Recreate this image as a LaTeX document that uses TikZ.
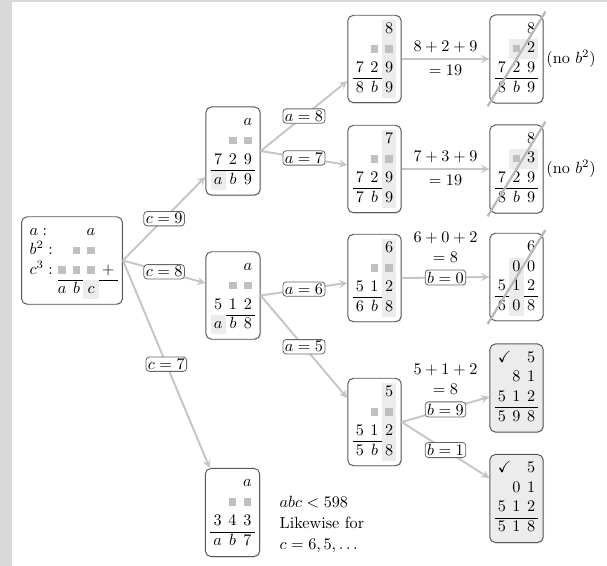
\documentclass[tikz,border=0pt]{standalone}
\usepackage{amssymb,amsmath}
\usepackage{colortbl}
\usetikzlibrary{arrows}
\usetikzlibrary{positioning}
\usetikzlibrary{shadows}

\setlength{\arraycolsep}{2pt}
\newcommand{\sq}{\textcolor{gray!50}{\rule[0.3pt]{4.6pt}{4.6pt}}}
\newcommand{\hlc}{\cellcolor{gray!15}}
\newcommand{\chk}{\rlap{$\checkmark$}\phantom{0}}
\newcolumntype{H}{>{\columncolor{gray!15}}c}

\begin{document}
\begin{tikzpicture}[x=0.6173pt,y=-0.6173pt]
	\tikzset{
		box/.style={draw=black!65,line width=0.6pt,rounded corners=3.5pt,fill=white,inner sep=3pt,
			drop shadow={opacity=0.18,shadow xshift=0.5pt,shadow yshift=-0.7pt}},
		done/.style={box,fill=gray!15},
		lbl/.style={draw=gray!80!black,fill=white,text=black,rounded corners=2pt,inner sep=1.2pt,line width=0.5pt},
		sumtxt/.style={text=black},
		arr/.style={-stealth,color=gray!45,line width=1.2pt},
		strike/.style={draw=gray!55,line width=1.4pt,shorten <=-2pt,shorten >=-2pt}
	}

	% page and grey strip
	\fill[gray!30] (0,0) rectangle (607,566);
	\fill[white] (12,2) rectangle (607,566);

	\node[box] (root) at (72,260.5) {$\begin{array}{l@{\hspace{3pt}}cccc}
		a: & & & a & \\
		b^2: & & \sq & \sq & \\
		c^3: & \sq & \sq & \sq & + \\ \cline{2-5}
		& a & b & \hlc c &
	\end{array}$};

	\node[box] (c9) at (233,151) {$\begin{array}{ccc}
		& & a\\ & \sq & \sq\\ 7 & 2 & 9\\ \hline \hlc a & b & 9
	\end{array}$};
	\node[box] (c8) at (233,295.5) {$\begin{array}{ccc}
		& & a\\ & \sq & \sq\\ 5 & 1 & 2\\ \cline{1-3} \hlc a & b & 8
	\end{array}$};
	\node[box] (c7) at (232.5,512.5) {$\begin{array}{ccc}
		& & a\\ & \sq & \sq\\ 3 & 4 & 3\\ \hline a & b & 7
	\end{array}$};
	\node[right=8.5pt of c7,yshift=-7.4pt,align=left] (note) {$abc<598$\\[1pt]Likewise for\\[1pt]$c=6,5,\dots$};

	\node[box] (a8) at (374.5,59) {$\begin{array}{ccH}
		& & 8\\ & \sq & \sq\\ 7 & 2 & 9\\ \cline{1-3} 8 & b & 9
	\end{array}$};
	\node[box] (a8x) at (516.5,59) {$\begin{array}{ccc}
		& & 8\\ & \hlc\sq & \hlc 2\\ 7 & 2 & 9\\ \hline 8 & b & 9
	\end{array}$};
	\node[box] (a7) at (374.5,169) {$\begin{array}{ccH}
		& & 7\\ & \sq & \sq\\ 7 & 2 & 9\\ \cline{1-3} 7 & b & 9
	\end{array}$};
	\node[box] (a7x) at (516.5,169) {$\begin{array}{ccc}
		& & 8\\ & \hlc\sq & \hlc 3\\ 7 & 2 & 9\\ \hline 8 & b & 9
	\end{array}$};
	\node[box] (a6) at (374.5,278) {$\begin{array}{ccH}
		& & 6\\ & \sq & \sq\\ 5 & 1 & 2\\ \cline{1-3} 6 & b & 8
	\end{array}$};
	\node[box] (a6x) at (516.5,277) {$\begin{array}{ccc}
		& & 6\\ & \hlc 0 & 0\\ 5 & \hlc 1 & 2\\ \cline{1-3} 6 & \hlc 0 & 8
	\end{array}$};
	\node[box] (a5) at (374.5,422) {$\begin{array}{ccH}
		& & 5\\ & \sq & \sq\\ 5 & 1 & 2\\ \cline{1-3} 5 & b & 8
	\end{array}$};
	\node[done] (b9) at (516.5,388) {$\begin{array}{ccc}
		\chk & & 5\\ & 8 & 1\\ 5 & 1 & 2\\ \hline 5 & 9 & 8
	\end{array}$};
	\node[done] (b1) at (516.5,498.5) {$\begin{array}{ccc}
		\chk & & 5\\ & 0 & 1\\ 5 & 1 & 2\\ \hline 5 & 1 & 8
	\end{array}$};

	% crossed out
	\draw[strike] (a8x.south west) -- (a8x.north east);
	\draw[strike] (a7x.south west) -- (a7x.north east);
	\draw[strike] (a6x.south west) -- (a6x.north east);
	\node[right=0.5pt of a8x,inner sep=1pt] {(no $b^2$)};
	\node[right=0.5pt of a7x,inner sep=1pt] {(no $b^2$)};

	\path[arr]
	(root.east) edge node[lbl] {$c=9$} ([yshift=-16pt]c9.west)
	(root.east) edge node[lbl] {$c=8$} ([yshift=7.7pt]c8.west)
	(root.east) edge node[lbl] {$c=7$} ([xshift=3pt]c7.north west);

	\path[arr]
	(c9.east) edge node[lbl] {$a=8$} ([yshift=-13.6pt]a8.west)
	(c9.east) edge node[lbl] {$a=7$} ([yshift=2.5pt]a7.west)
	(c8.east) edge node[lbl] {$a=6$} ([yshift=-3pt]a6.west)
	(c8.east) edge node[lbl] {$a=5$} ([yshift=14.8pt]a5.west);

	\path[arr]
	(a8.east) edge node[sumtxt,above] {$8+2+9$} node[sumtxt,below] {$=19$} (a8x.west)
	(a7.east) edge node[sumtxt,above] {$7+3+9$} node[sumtxt,below] {$=19$} (a7x.west)
	(a6.east) edge node[lbl] (lb0) {$b=0$} (a6x.west)
	(a5.east) edge node[lbl] (lb9) {$b=9$} ([yshift=-5.5pt]b9.west)
	(a5.east) edge node[lbl] {$b=1$} ([yshift=12.6pt]b1.west);

	\node[above=1pt of lb0,align=center] {$6+0+2$\\$=8$};
	\node[above=1pt of lb9,align=center] {$5+1+2$\\$=8$};

\end{tikzpicture}
\end{document}
